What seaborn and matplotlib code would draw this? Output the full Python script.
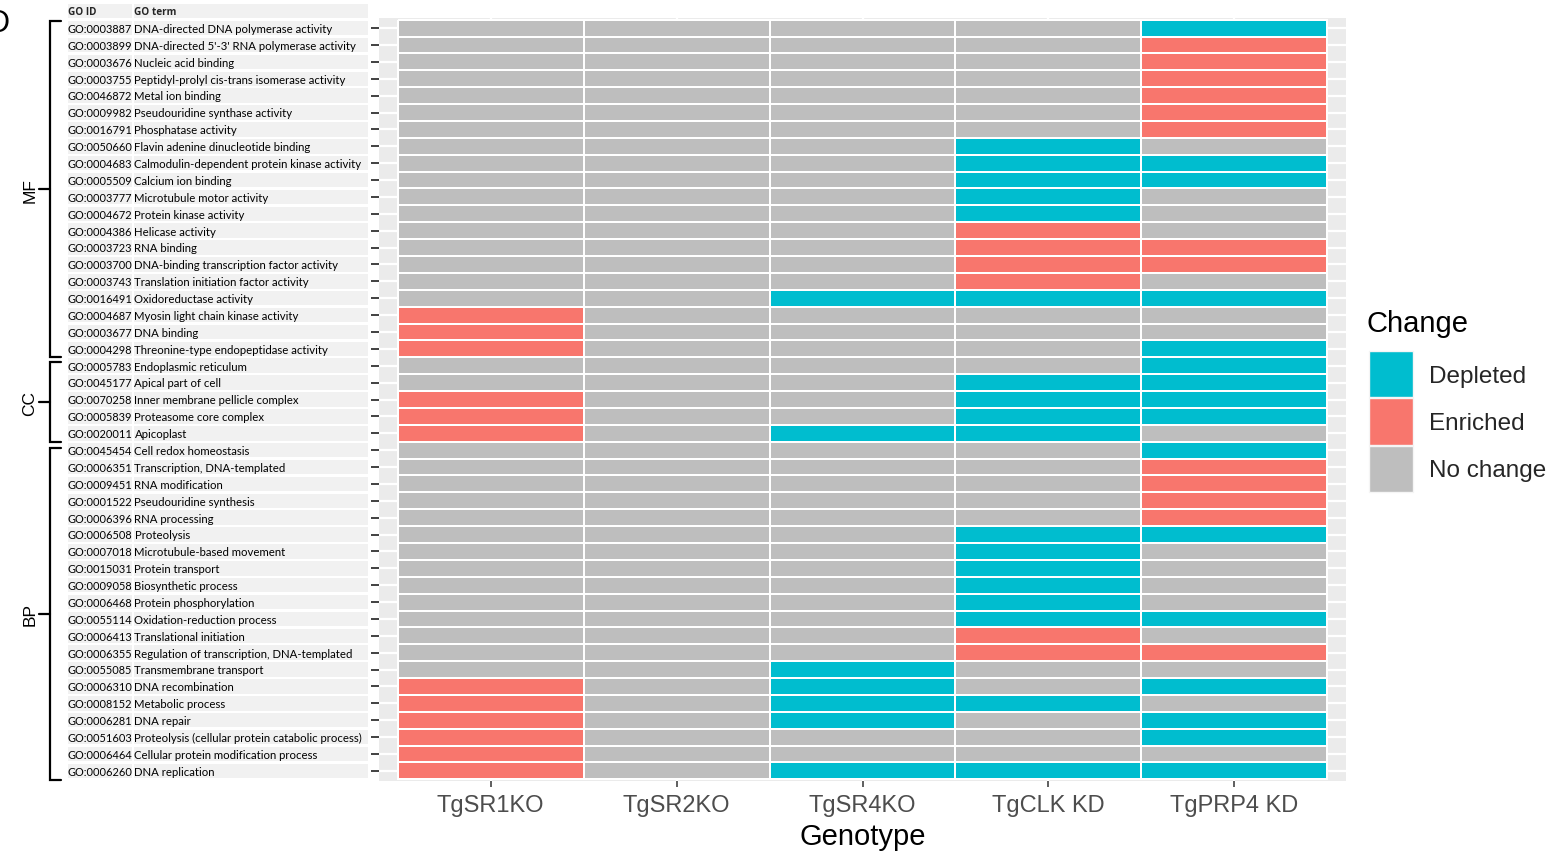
import numpy as np
import pandas as pd
import matplotlib
matplotlib.use("Agg")
import matplotlib.pyplot as plt
import matplotlib.transforms as mtransforms
from matplotlib.colors import ListedColormap
from matplotlib.patches import Rectangle, Patch
from matplotlib.lines import Line2D
import seaborn as sns

# ---------------- data ----------------
genotypes = ["TgSR1KO", "TgSR2KO", "TgSR4KO", "TgCLK KD", "TgPRP4 KD"]
change_levels = ["Depleted", "Enriched", "No change"]

go_ids = [
    "GO:0003887", "GO:0003899", "GO:0003676", "GO:0003755", "GO:0046872",
    "GO:0009982", "GO:0016791", "GO:0050660", "GO:0004683", "GO:0005509",
    "GO:0003777", "GO:0004672", "GO:0004386", "GO:0003723", "GO:0003700",
    "GO:0003743", "GO:0016491", "GO:0004687", "GO:0003677", "GO:0004298",
    "GO:0005783", "GO:0045177", "GO:0070258", "GO:0005839", "GO:0020011",
    "GO:0045454", "GO:0006351", "GO:0009451", "GO:0001522", "GO:0006396",
    "GO:0006508", "GO:0007018", "GO:0015031", "GO:0009058", "GO:0006468",
    "GO:0055114", "GO:0006413", "GO:0006355", "GO:0055085", "GO:0006310",
    "GO:0008152", "GO:0006281", "GO:0051603", "GO:0006464", "GO:0006260",
]
go_terms = [
    "DNA-directed DNA polymerase activity",
    "DNA-directed 5'-3' RNA polymerase activity",
    "Nucleic acid binding",
    "Peptidyl-prolyl cis-trans isomerase activity",
    "Metal ion binding",
    "Pseudouridine synthase activity",
    "Phosphatase activity",
    "Flavin adenine dinucleotide binding",
    "Calmodulin-dependent protein kinase activity",
    "Calcium ion binding",
    "Microtubule motor activity",
    "Protein kinase activity",
    "Helicase activity",
    "RNA binding",
    "DNA-binding transcription factor activity",
    "Translation initiation factor activity",
    "Oxidoreductase activity",
    "Myosin light chain kinase activity",
    "DNA binding",
    "Threonine-type endopeptidase activity",
    "Endoplasmic reticulum",
    "Apical part of cell",
    "Inner membrane pellicle complex",
    "Proteasome core complex",
    "Apicoplast",
    "Cell redox homeostasis",
    "Transcription, DNA-templated",
    "RNA modification",
    "Pseudouridine synthesis",
    "RNA processing",
    "Proteolysis",
    "Microtubule-based movement",
    "Protein transport",
    "Biosynthetic process",
    "Protein phosphorylation",
    "Oxidation-reduction process",
    "Translational initiation",
    "Regulation of transcription, DNA-templated",
    "Transmembrane transport",
    "DNA recombination",
    "Metabolic process",
    "DNA repair",
    "Proteolysis (cellular protein catabolic process)",
    "Cellular protein modification process",
    "DNA replication",
]
categories = ["MF"] * 20 + ["CC"] * 5 + ["BP"] * 20

# D = Depleted, E = Enriched, N = No change ; columns follow `genotypes`
sr1ko = list("NNNNNNNNNNNNNNNNNEEENNEEENNNNNNNNNNNNNNEEEEEE")
sr2ko = list("NNNNNNNNNNNNNNNNNNNNNNNNNNNNNNNNNNNNNNNNNNNNN")
sr4ko = list("NNNNNNNNNNNNNNNNDNNNNNNNDNNNNNNNNNNNNNDDDDNND")
clkkd = list("NNNNNNNDDDDDEEEEDNNNNDDDDNNNNNDDDDDDEENNDNNND")
prp4kd = list("DEEEEEENDDNNNEENDNNDDDDDNDEEEEDNNNNDNENDNDDND")

code_map = {"D": 0, "E": 1, "N": 2}
status = pd.DataFrame(
    {g: [code_map[c] for c in col] for g, col in
     zip(genotypes, [sr1ko, sr2ko, sr4ko, clkkd, prp4kd])},
    index=go_ids,
)

colors = {"Depleted": "#00BDCF", "Enriched": "#F8766D", "No change": "#BEBEBE"}

# ---------------- figure ----------------
W, H = 1552, 853
sns.set_style("white")
plt.rcParams["font.family"] = ["Liberation Sans", "DejaVu Sans"]

fig = plt.figure(figsize=(W / 100, H / 100), dpi=100)
panel = [379, 19, 1346, 782]  # left, top, right, bottom in px
ax = fig.add_axes([panel[0] / W, 1 - panel[3] / H,
                   (panel[2] - panel[0]) / W, (panel[3] - panel[1]) / H])

cmap = ListedColormap([colors[k] for k in change_levels])
sns.heatmap(status, ax=ax, cmap=cmap, vmin=-0.5, vmax=2.5, cbar=False,
            linewidths=1.3, linecolor="white", xticklabels=True,
            yticklabels=False)

ax.set_facecolor("#EBEBEB")
ax.set_axisbelow(True)
n_rows, n_cols = status.shape
ax.set_yticks(np.arange(n_rows) + 0.5)
ax.set_yticklabels([])
ax.set_xticks(np.arange(n_cols) + 0.5)
ax.set_xticklabels(genotypes, rotation=0, fontsize=17, color="#4D4D4D")
ax.grid(True, color="white", linewidth=1.6)
for s in ax.spines.values():
    s.set_visible(False)
ax.tick_params(axis="x", length=4.5, width=1.1, color="#333333", pad=5,
               bottom=True)
ax.tick_params(axis="y", length=5.8, width=1.3, color="#333333", left=True)
ax.set_xlabel("Genotype", fontsize=21, color="black", labelpad=4)
ax.set_ylabel("")
ax.set_xlim(-0.1, n_cols + 0.1)
ax.set_ylim(n_rows + 0.1, -0.1)

# ---------------- left table of GO terms ----------------
blend = mtransforms.blended_transform_factory(fig.transFigure, ax.transData)
tbl_font = ["Lato", "DejaVu Sans"]
hdr_font = ["Open Sans", "DejaVu Sans"]
id_x0, id_x1 = 67.5, 132.3
term_x0, term_x1 = 133.5, 367.7
for i, (gid, term) in enumerate(zip(go_ids, go_terms)):
    for x0, x1 in [(id_x0, id_x1), (term_x0, term_x1)]:
        ax.add_patch(Rectangle((x0 / W, i + 0.07), (x1 - x0) / W, 0.86,
                               transform=blend, facecolor="#F1F1F1",
                               edgecolor="none", clip_on=False, zorder=0))
    ax.text((id_x0 + 0.5) / W, i + 0.52, gid, transform=blend, ha="left",
            va="center", fontsize=7.9, family=tbl_font, color="black")
    ax.text((term_x0 + 1) / W, i + 0.52, term, transform=blend, ha="left",
            va="center", fontsize=8.2, family=tbl_font, color="black")

# header
for x0, x1 in [(id_x0, id_x1), (term_x0, term_x1)]:
    ax.add_patch(Rectangle((x0 / W, -0.92), (x1 - x0) / W, 0.84,
                           transform=blend, facecolor="#F1F1F1",
                           edgecolor="none", clip_on=False, zorder=0))
ax.text((id_x0 + 0.5) / W, -0.5, "GO ID", transform=blend, ha="left",
        va="center", fontsize=7.2, family=hdr_font, fontweight="bold")
ax.text((term_x0 + 1) / W, -0.5, "GO term", transform=blend, ha="left",
        va="center", fontsize=7.2, family=hdr_font, fontweight="bold")

# brackets for ontology categories
groups = [("MF", 0.1, 20.0), ("CC", 20.3, 25.0), ("BP", 25.35, 45.05)]
bx, barm, bmid, blab = 50, 61, 39, 30
for name, y0, y1 in groups:
    xs = [barm / W, bx / W, bx / W, barm / W]
    ys = [y0, y0, y1, y1]
    ax.add_line(Line2D(xs, ys, transform=blend, color="black", lw=1.6,
                       clip_on=False, solid_joinstyle="miter"))
    ym = (y0 + y1) / 2
    ax.add_line(Line2D([bmid / W, bx / W], [ym, ym], transform=blend,
                       color="black", lw=1.6, clip_on=False))
    ax.text(blab / W, ym, name, transform=blend, rotation=90, ha="center",
            va="center", fontsize=12.5, color="black")

# panel tag (partially cut off on the left edge, as in the reference)
fig.text(9 / W, 1 - 24 / H, "D", ha="right", va="center", fontsize=22,
         color="black")

# ---------------- legend ----------------
fig.text(1367 / W, 1 - 324 / H, "Change", ha="left", va="center",
         fontsize=21, color="black")
handles = [Patch(facecolor=colors[k], edgecolor="#F5F5F5", linewidth=1.0,
                 label=k) for k in change_levels]
leg = fig.legend(handles=handles, loc="upper left",
                 bbox_to_anchor=(1369 / W, 1 - 352 / H), frameon=False,
                 fontsize=17.5, handlelength=1.8, handleheight=2.55,
                 labelspacing=0.05, handletextpad=0.65,
                 borderpad=0, borderaxespad=0)

ax.set_xlim(-0.1, n_cols + 0.1)
ax.set_ylim(n_rows + 0.1, -0.1)

fig.savefig("out.png", dpi=100)
